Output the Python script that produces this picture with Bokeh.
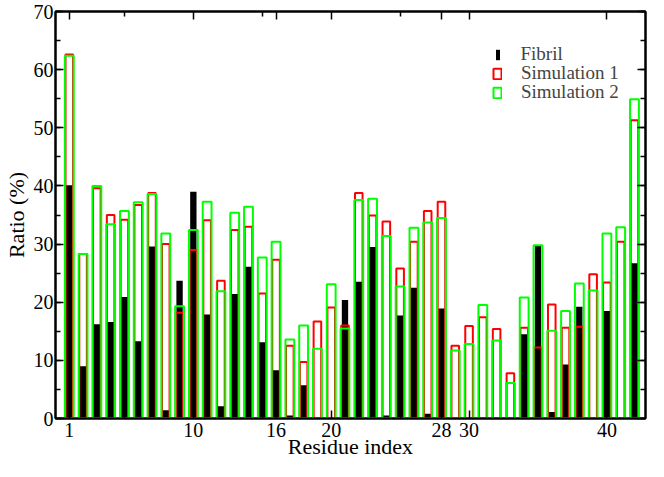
from bokeh.plotting import figure
from bokeh.models import (Range1d, LinearAxis, FixedTicker, SingleIntervalTicker,
                          Legend, LegendItem, ColumnDataSource, CustomJSTickFormatter)
from bokeh.embed import file_html
from bokeh.resources import INLINE

residues = list(range(1, 43))
fibril = [40.1, 9.0, 16.2, 16.6, 20.9, 13.3, 29.6, 1.4, 23.7, 39.0,
          17.9, 2.1, 21.4, 26.1, 13.1, 8.3, 0.5, 5.7, 0.0, 0.0,
          20.4, 23.5, 29.5, 0.5, 17.7, 22.5, 0.8, 18.9, 0.0, 0.0,
          0.0, 0.0, 0.0, 14.5, 29.7, 1.1, 9.3, 19.2, 0.0, 18.5,
          0.0, 26.7]
sim1 = [62.6, 28.3, 39.6, 35.0, 34.2, 36.7, 38.8, 30.0, 18.2, 29.0,
        34.1, 23.7, 32.4, 33.0, 21.5, 27.3, 12.5, 9.7, 16.7, 19.1,
        16.0, 38.8, 34.9, 33.9, 25.8, 30.4, 35.7, 37.3, 12.5, 15.9,
        17.4, 15.4, 7.8, 15.6, 12.2, 19.6, 15.6, 15.8, 24.8, 23.4,
        30.4, 51.3]
sim2 = [62.4, 28.3, 40.0, 33.4, 35.7, 37.2, 38.6, 31.8, 19.3, 32.4,
        37.3, 21.9, 35.4, 36.4, 27.7, 30.4, 13.6, 16.0, 12.0, 23.1,
        15.5, 37.6, 37.8, 31.4, 22.7, 32.8, 33.7, 34.5, 11.7, 12.8,
        19.5, 13.4, 6.1, 20.8, 29.8, 15.1, 18.5, 23.2, 22.0, 31.8,
        32.9, 54.9]
x_major_ticks = [1, 10, 16, 20, 28, 30, 40]
x_minor_ticks = [5, 15, 25]
series_labels = ["Fibril", "Simulation 1", "Simulation 2"]
x_title = "Residue index"
y_title = "Ratio (%)"

src = ColumnDataSource(dict(res=residues, fibril=fibril, sim1=sim1, sim2=sim2))

FONT = "Liberation Serif"

p = figure(width=648, height=461,
           x_range=Range1d(0, 42.8), y_range=Range1d(0, 70),
           output_backend="svg", toolbar_location=None,
           min_border_left=0, min_border_right=3, min_border_top=11, min_border_bottom=0)
p.xgrid.visible = False
p.ygrid.visible = False
p.outline_line_color = "black"
p.outline_line_width = 2
p.background_fill_color = "white"

black = p.vbar(x="res", top="fibril", width=0.46, source=src,
               fill_color="black", line_color=None)
red = p.vbar(x="res", top="sim1", width=0.55, source=src,
             fill_color=None, line_color="#ff0000", line_width=2)
green = p.vbar(x="res", top="sim2", width=0.64, source=src,
               fill_color=None, line_color="#00ff00", line_width=2)


def style_axis(ax, labels=True):
    ax.axis_line_width = 2
    ax.axis_line_color = "black"
    ax.major_tick_in = 8
    ax.major_tick_out = 0
    ax.minor_tick_in = 5
    ax.minor_tick_out = 0
    ax.major_tick_line_width = 1.5
    ax.minor_tick_line_width = 1.5
    ax.major_tick_line_color = "black"
    ax.minor_tick_line_color = "black"
    if labels:
        ax.major_label_text_font = FONT
        ax.major_label_text_font_size = "20px"
        ax.major_label_text_color = "black"
        ax.major_label_standoff = 2
        ax.axis_label_text_font = FONT
        ax.axis_label_text_font_size = "22px"
        ax.axis_label_text_font_style = "normal"
        ax.axis_label_text_color = "black"
    else:
        ax.formatter = CustomJSTickFormatter(code="return '';")
        ax.major_label_text_font_size = "1px"
        ax.major_label_standoff = 0


xa = p.xaxis[0]
xa.ticker = FixedTicker(ticks=x_major_ticks, minor_ticks=x_minor_ticks)
xa.axis_label = x_title
style_axis(xa)
xa.major_label_standoff = 4
xa.axis_label_standoff = -6

ya = p.yaxis[0]
ya.ticker = SingleIntervalTicker(interval=10, num_minor_ticks=2)
ya.axis_label = y_title
style_axis(ya)
ya.axis_label_standoff = 2

top_ax = LinearAxis(ticker=FixedTicker(ticks=x_major_ticks, minor_ticks=x_minor_ticks))
style_axis(top_ax, labels=False)
p.add_layout(top_ax, "above")

right_ax = LinearAxis(ticker=SingleIntervalTicker(interval=10, num_minor_ticks=2))
style_axis(right_ax, labels=False)
p.add_layout(right_ax, "right")

# one legend per entry so that row spacing and glyph widths can match the original
legend_specs = [(black, series_labels[0], 5, 439.5, 21, 353),
                (red, series_labels[1], 10, 437, 19, 334),
                (green, series_labels[2], 10, 437, 19, 315)]
for rend, lab, gw, xloc, stand, ybot in legend_specs:
    lg = Legend(items=[LegendItem(label=lab, renderers=[rend])],
                location=(xloc, ybot),
                label_text_font=FONT, label_text_font_size="19px",
                glyph_width=gw, glyph_height=13, label_height=13,
                spacing=0, padding=0, margin=0, label_standoff=stand,
                background_fill_alpha=0, border_line_color=None)
    p.add_layout(lg)

open("out.html", "w").write(file_html(p, INLINE))
